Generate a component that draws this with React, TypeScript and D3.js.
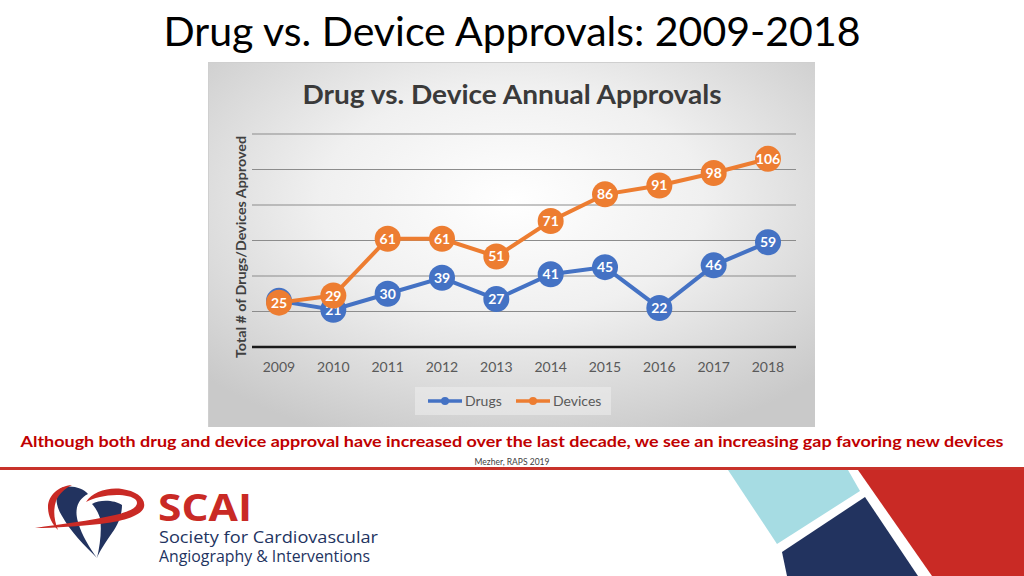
import React from 'react';
import * as d3 from 'd3';

const years = ['2009', '2010', '2011', '2012', '2013', '2014', '2015', '2016', '2017', '2018'];
const drugs = [26, 21, 30, 39, 27, 41, 45, 22, 46, 59];
const devices = [25, 29, 61, 61, 51, 71, 86, 91, 98, 106];
const yTicks = [0, 20, 40, 60, 80, 100, 120];
const seriesNames = ['Drugs', 'Devices'];
const seriesColors = ['#4472C4', '#ED7D31'];

export default function App() {
  const x = d3.scalePoint<string>().domain(years).range([279, 768]);
  const y = d3.scaleLinear().domain([0, 120]).range([347, 134]);
  const line = d3
    .line<number>()
    .x((_, i) => x(years[i]) as number)
    .y((d) => y(d));
  const series = [drugs, devices];

  return (
    <svg
      width={1024}
      height={576}
      style={{ position: 'fixed', left: 0, top: 0, background: '#fff' }}
      fontFamily="Lato, 'Open Sans', sans-serif"
    >
      <defs>
        <radialGradient id="bg" cx="50%" cy="38%" r="70%">
          <stop offset="0%" stopColor="#ffffff" />
          <stop offset="45%" stopColor="#f0f0f0" />
          <stop offset="100%" stopColor="#c9c9c9" />
        </radialGradient>
      </defs>
      <rect x={0} y={0} width={1024} height={576} fill="#fff" />
      {/* Page title */}
      <text x={512} y={46} textAnchor="middle" fontSize={40} fill="#000" textLength={697} lengthAdjust="spacingAndGlyphs">
        Drug vs. Device Approvals: 2009-2018
      </text>

      {/* Chart image */}
      <rect x={208} y={62} width={607} height={365} fill="url(#bg)" />
      <line x1={208} x2={815} y1={62.5} y2={62.5} stroke="#cfcfcf" strokeWidth={1} />
      <line x1={208.5} x2={208.5} y1={62} y2={427} stroke="#cfcfcf" strokeWidth={1} />
      <text x={512} y={104} textAnchor="middle" fontSize={26} fontWeight="bold" fill="#3a3a3a" textLength={419} lengthAdjust="spacingAndGlyphs">
        Drug vs. Device Annual Approvals
      </text>
      {yTicks.map((t) => (
        <line
          key={t}
          x1={252}
          x2={796}
          y1={y(t)}
          y2={y(t)}
          stroke={t === 0 ? '#1a1a1a' : '#8c8c8c'}
          strokeWidth={t === 0 ? 2.5 : 1.2}
        />
      ))}
      <text
        transform={`translate(246,247) rotate(-90)`}
        textAnchor="middle"
        fontSize={13.5}
        fontWeight="bold"
        fill="#404040"
        textLength={222}
        lengthAdjust="spacingAndGlyphs"
      >
        Total # of Drugs/Devices Approved
      </text>
      {years.map((yr) => (
        <text key={yr} x={x(yr)} y={372} textAnchor="middle" fontSize={14} fill="#595959">
          {yr}
        </text>
      ))}
      {series.map((s, si) => (
        <g key={si}>
          <path d={line(s) || ''} fill="none" stroke={seriesColors[si]} strokeWidth={4} />
          {s.map((v, i) => (
            <circle key={i} cx={x(years[i])} cy={y(v)} r={13} fill={seriesColors[si]} />
          ))}
          {s.map((v, i) => (
            <text
              key={'t' + i}
              x={x(years[i])}
              y={y(v) + 5}
              textAnchor="middle"
              fontSize={14}
              fontWeight="bold"
              fill="#fff"
            >
              {v}
            </text>
          ))}
        </g>
      ))}
      {/* Legend */}
      <rect x={415} y={387} width={196} height={28} fill="#ececec" opacity={0.6} />
      {seriesNames.map((n, i) => {
        const lx = 428 + i * 88;
        return (
          <g key={n}>
            <line x1={lx} x2={lx + 34} y1={401} y2={401} stroke={seriesColors[i]} strokeWidth={3.5} />
            <circle cx={lx + 17} cy={401} r={4} fill={seriesColors[i]} />
            <text x={lx + 37} y={406} fontSize={14} fill="#595959">
              {n}
            </text>
          </g>
        );
      })}

      {/* Caption */}
      <text x={512} y={447} textAnchor="middle" fontSize={16} fontWeight="bold" fill="#C00000" textLength={983} lengthAdjust="spacingAndGlyphs">
        Although both drug and device approval have increased over the last decade, we see an increasing gap favoring new devices
      </text>
      <text x={512} y={465} textAnchor="middle" fontSize={8.5} fill="#404040">
        Mezher, RAPS 2019
      </text>
      <rect x={0} y={467} width={1024} height={3} fill="#C8322A" />

      {/* Bottom right shapes */}
      <polygon points="728,470 848,470 860,491 777,544" fill="#A6DCE3" />
      <polygon points="782,552 865,497 918,576 787,576" fill="#22335F" />
      <polygon points="858,470 1024,470 1024,576 932,576" fill="#C92A25" />

      {/* Logo */}
      <g>
        <path d="M60,489 C68,484 82,487 88,494 C78,499 74,509 78,522 C82,536 90,548 97,558 C85,546 70,531 62,516 C55,505 55,494 60,489 Z" fill="#22335F" />
        <path d="M72,485 C58,486 48,496 48,507 C48,516 52,524 58,530 C54,520 53,510 56,501 C59,494 64,489 72,485 Z" fill="#C92A25" />
        <path d="M92,504 C100,499 115,500 122,505 C122,515 118,525 112,533 C106,542 100,550 97,558 C100,545 102,530 100,518 C98,512 95,507 92,504 Z" fill="#22335F" />
        <path d="M86,502 C92,492 108,487 122,489 C136,491 146,498 144,507 C142,516 120,522 100,524 C80,526 55,528 35,528 C60,524 90,521 115,515 C132,511 140,506 136,500 C130,494 112,494 100,497 C94,498 90,500 86,502 Z" fill="#C92A25" />
      </g>
      <text x={158} y={521} fontSize={38} fontWeight="bold" fill="#C92A25" fontFamily="'Open Sans', sans-serif" textLength={94} lengthAdjust="spacingAndGlyphs">
        SCAI
      </text>
      <text x={159} y={543} fontSize={15.5} fill="#22335F" fontFamily="'Open Sans', sans-serif" textLength={219} lengthAdjust="spacingAndGlyphs">
        Society for Cardiovascular
      </text>
      <text x={159} y={562} fontSize={15.5} fill="#22335F" fontFamily="'Open Sans', sans-serif" textLength={211} lengthAdjust="spacingAndGlyphs">
        Angiography &amp; Interventions
      </text>
    </svg>
  );
}
